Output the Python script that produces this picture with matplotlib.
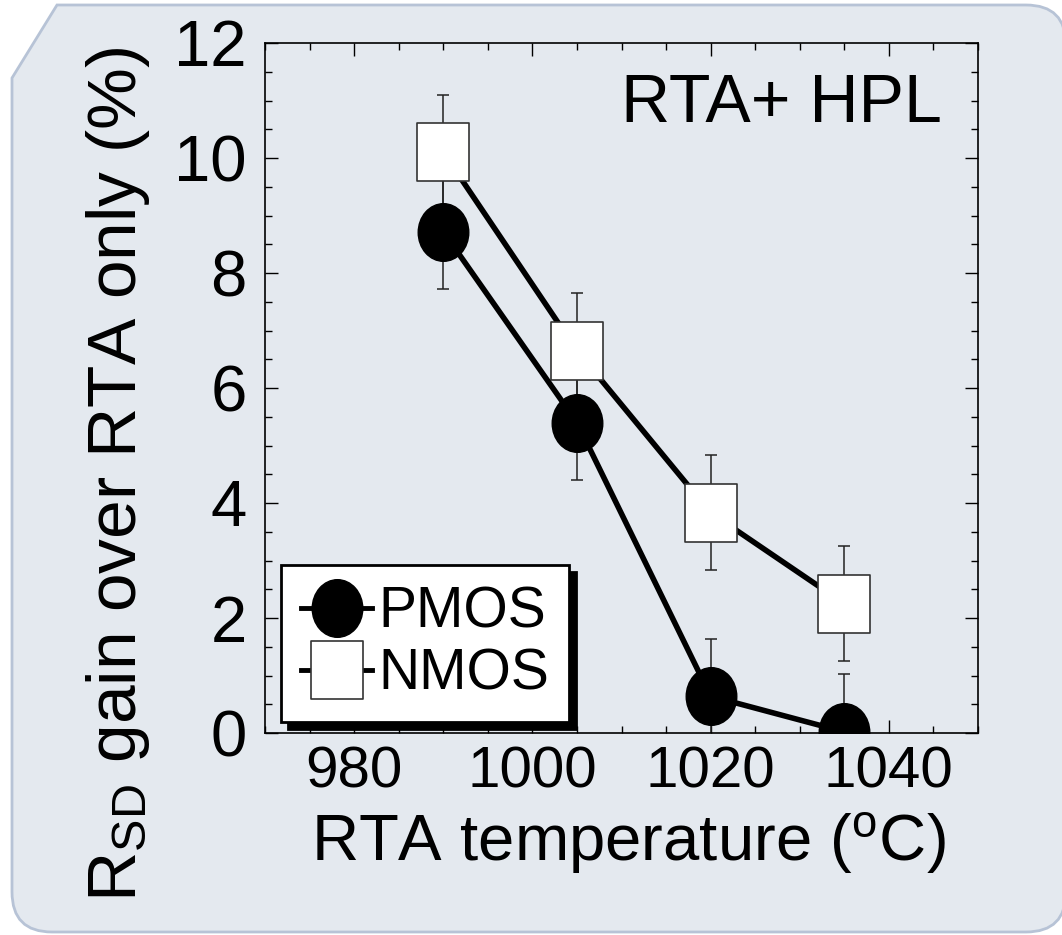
import numpy as np
import matplotlib
matplotlib.use("Agg")
import matplotlib.pyplot as plt
from matplotlib.path import Path
from matplotlib.patches import PathPatch, Shadow
from matplotlib.transforms import Affine2D

# ---------------- data ----------------
temps = [990, 1005, 1020, 1035]
pmos = [8.72, 5.40, 0.64, 0.02]
pmos_err = [1.0, 1.0, 1.0, 1.0]
nmos = [10.10, 6.65, 3.83, 2.25]
nmos_err = [1.0, 1.0, 1.0, 1.0]
xticks = [980, 1000, 1020, 1040]
yticks = [0, 2, 4, 6, 8, 10, 12]
series_labels = ["PMOS", "NMOS"]

plt.rcParams['font.family'] = ['Liberation Sans', 'DejaVu Sans']
plt.rcParams['mathtext.fontset'] = 'custom'
plt.rcParams['mathtext.rm'] = 'Liberation Sans'
plt.rcParams['mathtext.it'] = 'Liberation Sans'

W, H = 1062, 935
fig = plt.figure(figsize=(W / 100, H / 100), dpi=100, facecolor='white')

# ---------------- background panel ----------------
def px(x, y):
    return (x / W, 1 - y / H)

R = 40
L, T, Rt, B = 12, 5, 1066, 932
verts = [px(57, T), px(Rt - R, T), px(Rt, T), px(Rt, T + R),
         px(Rt, B - R), px(Rt, B), px(Rt - R, B),
         px(L + R, B), px(L, B), px(L, B - R),
         px(L, 78), px(57, T)]
codes = [Path.MOVETO, Path.LINETO, Path.CURVE3, Path.CURVE3,
         Path.LINETO, Path.CURVE3, Path.CURVE3,
         Path.LINETO, Path.CURVE3, Path.CURVE3,
         Path.LINETO, Path.CLOSEPOLY]
panel = PathPatch(Path(verts, codes), transform=fig.transFigure,
                  facecolor='#e4e9ef', edgecolor='#b7c3d6', linewidth=2.0,
                  zorder=-10)
fig.patches.append(panel)

# ---------------- axes ----------------
ax = fig.add_axes([265 / W, (H - 733) / H, (978 - 265) / W, (733 - 43) / H])
ax.set_zorder(1)
ax.set_facecolor('none')
ax.set_xlim(970, 1050)
ax.set_ylim(0, 12)

# markers slightly taller than wide (as in the picture)
ell = Path.unit_circle().transformed(Affine2D().scale(50 / 57, 1.0))
sq = Path([(-0.9, -1), (0.9, -1), (0.9, 1), (-0.9, 1), (-0.9, -1)],
          [Path.MOVETO, Path.LINETO, Path.LINETO, Path.LINETO, Path.CLOSEPOLY])

ms = 41.5
lw = 4.0

ax.errorbar(temps, nmos, yerr=nmos_err, fmt='none', ecolor='#222222',
            elinewidth=1.1, capsize=4.5, capthick=1.1, zorder=2)
ax.errorbar(temps, pmos, yerr=pmos_err, fmt='none', ecolor='#222222',
            elinewidth=1.1, capsize=4.5, capthick=1.1, zorder=2)

h_n, = ax.plot(temps, nmos, color='black', linewidth=lw, marker=sq,
               markersize=ms, markerfacecolor='white',
               markeredgecolor='#333333', markeredgewidth=1.2, zorder=3,
               label=series_labels[1])
h_p, = ax.plot(temps, pmos, color='black', linewidth=lw, marker=ell,
               markersize=ms, markerfacecolor='black',
               markeredgecolor='black', zorder=4, label=series_labels[0])

ax.set_xticks(xticks)
ax.set_xticks(np.arange(970, 1051, 5), minor=True)
ax.set_yticks(yticks)
ax.set_yticks(np.arange(0, 12.01, 0.5), minor=True)
ax.tick_params(which='both', direction='in', top=True, right=True,
               width=1.0, color='black')
ax.tick_params(which='major', length=9.5)
ax.tick_params(which='minor', length=5)
ax.tick_params(axis='y', which='major', labelsize=47, pad=13)
ax.tick_params(axis='x', which='major', labelsize=42, pad=9)
for s in ax.spines.values():
    s.set_linewidth(1.2)

ax.set_xlabel("RTA temperature ($^{\\mathrm{o}}$C)", fontsize=47)
ax.xaxis.set_label_coords(0.509, -0.113)
ax.xaxis.label.set_va('top')
ax.set_ylabel("R$_{\\mathrm{SD}}$ gain over RTA only (%)", fontsize=50)
ax.yaxis.set_label_coords(-0.158, 0.375)

ax.text(0.9495, 0.885, "RTA+ HPL", transform=ax.transAxes, fontsize=49,
        ha='right', va='baseline')

leg = ax.legend(handles=[h_p, h_n], loc='lower left',
                bbox_to_anchor=(0.022, 0.016), borderaxespad=0,
                fontsize=41, handlelength=1.25, handletextpad=0.1,
                labelspacing=0.14, borderpad=0.36, frameon=True,
                fancybox=False, framealpha=1, edgecolor='black',
                facecolor='white')
leg.get_frame().set_linewidth(2.0)
leg.set_zorder(10)
for lh in leg.legend_handles:
    lh.set_linewidth(3.5)

fig.canvas.draw()
shadow = Shadow(leg.legendPatch, 5, -5, facecolor='black', edgecolor='black',
                alpha=1.0)
shadow.set_zorder(9)
ax.add_artist(shadow)

fig.savefig("out.png", dpi=100, facecolor='white')
